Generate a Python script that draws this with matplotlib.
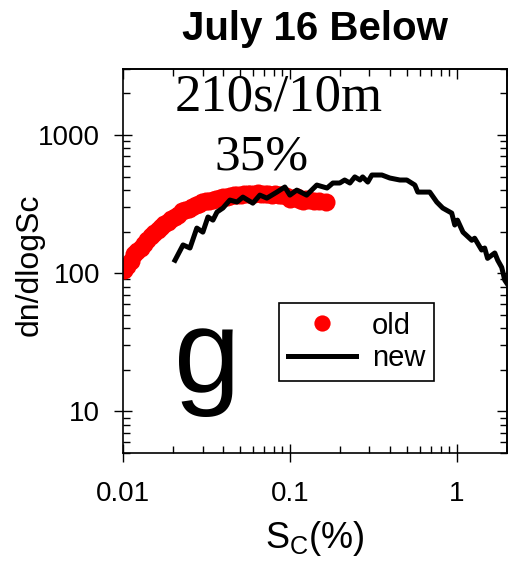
import numpy as np
import matplotlib
matplotlib.use('Agg')
import matplotlib.pyplot as plt
from matplotlib.ticker import LogLocator, NullFormatter, FixedLocator, FixedFormatter

plt.rcParams['font.family'] = ['Liberation Sans', 'DejaVu Sans']

# old data (red dots)
old_sc = [0.0101, 0.0106, 0.0111, 0.0117, 0.0122, 0.0128, 0.0134, 0.0140, 0.0147, 0.0154,
          0.0161, 0.0169, 0.0177, 0.0186, 0.0195, 0.0204, 0.0214, 0.0225, 0.0236, 0.0247,
          0.0259, 0.0272, 0.0285, 0.0299, 0.0314, 0.0329, 0.0345, 0.0362, 0.0380, 0.0398,
          0.0418, 0.0438, 0.046, 0.048, 0.051, 0.053, 0.056, 0.058, 0.061, 0.064,
          0.067, 0.071, 0.074, 0.078, 0.082, 0.086, 0.090, 0.095, 0.100, 0.105,
          0.110, 0.115, 0.120, 0.125, 0.130, 0.140, 0.150, 0.165]
old_dn = [105, 112, 122, 138, 145, 152, 163, 175, 185, 195,
          205, 215, 225, 235, 245, 255, 265, 280, 285, 290,
          300, 310, 315, 325, 330, 335, 340, 345, 350, 355,
          355, 360, 365, 365, 370, 372, 375, 372, 375, 378,
          375, 372, 375, 370, 372, 368, 365, 360, 345, 350,
          355, 340, 335, 345, 340, 330, 335, 325]

# new data (black line)
new_sc = [0.0205, 0.0229, 0.0252, 0.0277, 0.0301, 0.0323, 0.0346, 0.0366, 0.0397, 0.0437,
          0.0482, 0.0523, 0.0600, 0.0661, 0.0728, 0.0836, 0.0933, 0.100, 0.110, 0.126,
          0.145, 0.167, 0.181, 0.199, 0.213, 0.229, 0.245, 0.263, 0.273, 0.293,
          0.310, 0.356, 0.397, 0.456, 0.502, 0.561, 0.584, 0.689, 0.759, 0.824,
          0.933, 0.973, 1.01, 1.09, 1.23, 1.28, 1.41, 1.47, 1.53, 1.69,
          1.76, 1.86, 1.94, 1.99]
new_dn = [124, 160, 152, 212, 198, 255, 242, 277, 296, 338,
          327, 355, 321, 367, 349, 386, 420, 367, 399, 367,
          434, 413, 449, 449, 472, 449, 497, 472, 497, 456,
          513, 513, 488, 472, 472, 434, 386, 386, 327, 296,
          272, 223, 242, 198, 173, 179, 147, 152, 128, 140,
          124, 110, 89, 85]

fig = plt.figure(figsize=(5.08, 5.67), dpi=100)
ax = fig.add_axes([0.2421, 0.2011, 0.7559, 0.6772])

ax.plot(old_sc, old_dn, 'o', color='red', markersize=13, markeredgewidth=0, label='old', zorder=2)
ax.plot(new_sc, new_dn, '-', color='black', linewidth=3.6, label='new', zorder=3)

ax.set_xscale('log')
ax.set_yscale('log')
ax.set_xlim(0.01, 2.0)
ax.set_ylim(5, 3000)

ax.xaxis.set_major_locator(FixedLocator([0.01, 0.1, 1]))
ax.xaxis.set_major_formatter(FixedFormatter(['0.01', '0.1', '1']))
ax.yaxis.set_major_locator(FixedLocator([10, 100, 1000]))
ax.yaxis.set_major_formatter(FixedFormatter(['10', '100', '1000']))
ax.xaxis.set_minor_locator(LogLocator(base=10, subs=np.arange(2, 10)))
ax.yaxis.set_minor_locator(LogLocator(base=10, subs=np.arange(2, 10)))
ax.xaxis.set_minor_formatter(NullFormatter())
ax.yaxis.set_minor_formatter(NullFormatter())

ax.tick_params(which='major', direction='inout', length=13, width=1, labelsize=20)
ax.tick_params(axis='x', which='major', pad=14)
ax.tick_params(axis='y', which='major', pad=10)
ax.tick_params(which='minor', direction='in', length=5, width=1)
for s in ax.spines.values():
    s.set_linewidth(1.2)

# inward ticks on top and right
top = ax.secondary_xaxis('top')
top.xaxis.set_major_locator(FixedLocator([0.01, 0.1, 1]))
top.xaxis.set_minor_locator(LogLocator(base=10, subs=np.arange(2, 10)))
top.xaxis.set_major_formatter(NullFormatter())
top.xaxis.set_minor_formatter(NullFormatter())
top.tick_params(which='major', direction='in', length=7, width=1)
top.tick_params(which='minor', direction='in', length=5, width=1)
top.spines['top'].set_linewidth(1.2)
right = ax.secondary_yaxis('right')
right.yaxis.set_major_locator(FixedLocator([10, 100, 1000]))
right.yaxis.set_minor_locator(LogLocator(base=10, subs=np.arange(2, 10)))
right.yaxis.set_major_formatter(NullFormatter())
right.yaxis.set_minor_formatter(NullFormatter())
right.tick_params(which='major', direction='in', length=7, width=1)
right.tick_params(which='minor', direction='in', length=5, width=1)
right.spines['right'].set_linewidth(1.2)

ax.set_xlabel('S$_\\mathregular{C}$(%)', fontsize=26, labelpad=8)
ax.set_ylabel('dn/dlogSc', fontsize=23)
ax.yaxis.set_label_coords(-0.205, 0.49)
fig.suptitle('July 16 Below', fontsize=29, fontweight='bold', x=0.62, y=0.982)

ax.text(0.405, 0.925, '210s/10m', transform=ax.transAxes, fontsize=38,
        family='Liberation Serif', ha='center', va='center')
ax.text(0.36, 0.77, '35%', transform=ax.transAxes, fontsize=37,
        family='Liberation Serif', ha='center', va='center')
ax.text(0.22, 0.16, 'g', transform=ax.transAxes, fontsize=86, ha='center', va='baseline')

leg = ax.legend(loc='upper left', bbox_to_anchor=(0.406, 0.391), fontsize=21,
                frameon=True, fancybox=False, edgecolor='black', framealpha=1,
                handlelength=2.35, handletextpad=0.55, borderpad=0.3, labelspacing=0.15,
                markerscale=0.9, borderaxespad=0)
leg.get_frame().set_linewidth(1.2)

fig.savefig('out.png', dpi=100)
